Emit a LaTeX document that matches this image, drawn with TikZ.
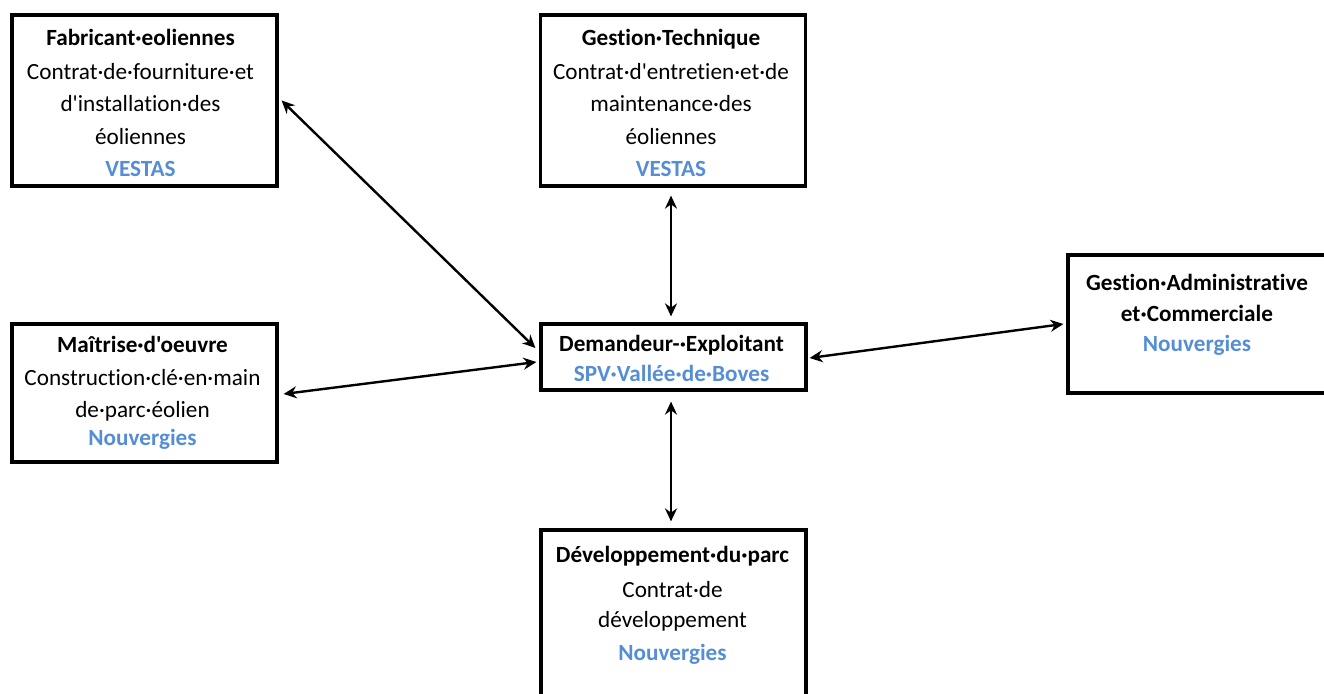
\documentclass[tikz,border=0pt]{standalone}
\usepackage{fontspec}
\setmainfont{Carlito}[Ligatures={TeXOff,CommonOff}]
\usetikzlibrary{arrows.meta,calc}
\definecolor{vblue}{HTML}{558ED5}
\begin{document}
\begin{tikzpicture}[x=1pt,y=-1pt,
  box/.style={draw, line width=3.2pt, minimum width=265pt, inner sep=0pt},
  txt/.style={anchor=north, align=center, inner sep=0pt, font=\fontsize{23.2}{32.5}\selectfont},
  link/.style={line width=2.4pt, {Stealth[length=13pt,width=12pt]}-{Stealth[length=13pt,width=12pt]}}]
\useasboundingbox (0,0) rectangle (1324,693);
% boxes
\node[box, minimum height=171pt] (fab) at (144.5,100.5) {};
\node[box, minimum height=171pt] (gt) at (673,100.5) {};
\node[box, minimum height=66pt] (dem) at (673.5,357) {};
\node[box, minimum width=262pt, minimum height=138pt] (ga) at (1199,324) {};
\node[box, minimum height=138pt] (mo) at (144.5,393) {};
\node[box, minimum height=190pt] (dev) at (673.5,625) {};
% texts
\node[txt] (fabt) at ($(fab.north)+(-4,16)$) {\textbf{Fabricant·eoliennes}\\[1pt]Contrat·de·fourniture·et\\d'installation·des\\éoliennes\\\textcolor{vblue}{\textbf{VESTAS}}};
\node[txt] (gtt) at ($(gt.north)+(-2,16)$) {\textbf{Gestion·Technique}\\[1pt]Contrat·d'entretien·et·de\\maintenance·des\\éoliennes\\\textcolor{vblue}{\textbf{VESTAS}}};
\node[txt] (demt) at ($(dem.north)+(-2,13)$) {\textbf{Demandeur-·Exploitant}\\[-2.5pt]\textcolor{vblue}{\textbf{SPV·Vallée·de·Boves}}};
\node[txt] (gat) at ($(ga.north)+(-2,21)$) {\textbf{Gestion·Administrative}\\[-1.5pt]\textbf{et·Commerciale}\\[-2.5pt]\textcolor{vblue}{\textbf{Nouvergies}}};
\node[txt] (mot) at ($(mo.north)+(-2,14)$) {\textbf{Maîtrise·d'oeuvre}\\Construction·clé·en·main\\[-0.5pt]de·parc·éolien\\[-4.5pt]\textcolor{vblue}{\textbf{Nouvergies}}};
\node[txt] (devt) at ($(dev.north)+(-1,18)$) {\textbf{Développement·du·parc}\\[2pt]Contrat·de\\[-2pt]développement\\\textcolor{vblue}{\textbf{Nouvergies}}};
% connector end points
\coordinate (fabE) at ($(fab.east)+(3,0)$);
\coordinate (demNW) at ($(dem.west)+(-4,-9)$);
\coordinate (moE) at ($(mo.east)+(5,1)$);
\coordinate (demSW) at ($(dem.west)+(-3,5)$);
\coordinate (gtS) at ($(gt.south)+(-2,8)$);
\coordinate (demN) at ($(dem.north)+(-2.5,-6)$);
\coordinate (demE) at ($(dem.east)+(2,1)$);
\coordinate (gaW) at ($(ga.west)+(-3,0)$);
\coordinate (demS) at ($(dem.south)+(-2.5,10)$);
\coordinate (devN) at ($(dev.north)+(-2.5,-7)$);
% connectors
\draw[link] (fabE) -- (demNW);
\draw[link] (moE) -- (demSW);
\draw[link] (gtS) -- (demN);
\draw[link] (demE) -- (gaW);
\draw[link] (demS) -- (devN);
\end{tikzpicture}
\end{document}
